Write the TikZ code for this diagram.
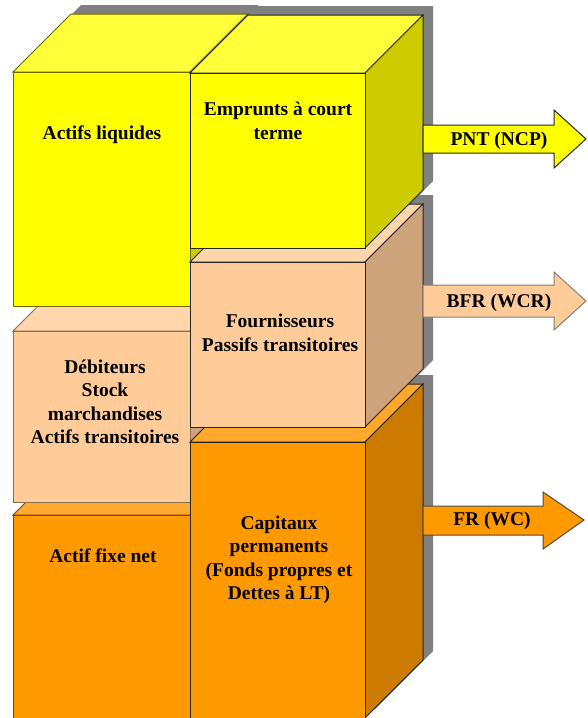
\documentclass[tikz,border=0pt]{standalone}
\usepackage{fontspec}
\setmainfont{Liberation Serif}

\definecolor{jaunefront}{HTML}{FFFF00}
\definecolor{jaunetop}{HTML}{FFFF3A}
\definecolor{jauneside}{HTML}{CCCC00}
\definecolor{jauneline}{HTML}{6B6B00}
\definecolor{pechefront}{HTML}{FFCC99}
\definecolor{pechetop}{HTML}{FFD6AB}
\definecolor{pecheside}{HTML}{CCA37A}
\definecolor{pecheline}{HTML}{8A6E52}
\definecolor{orangefront}{HTML}{FF9900}
\definecolor{orangetop}{HTML}{FFA82E}
\definecolor{orangeside}{HTML}{CC7A00}
\definecolor{orangeline}{HTML}{7A4A00}

% box seen from the upper right: #1,#2 = top left, #3,#4 = bottom right, #5 = colour, #6 = edges
\newcommand{\boite}[6]{%
  \filldraw[fill = #5top, draw = #6] (#1, #2) -- (#1 + 58, #2 - 58) -- (#3 + 58, #2 - 58) -- (#3, #2) -- cycle;
  \filldraw[fill = #5side, draw = #6] (#3, #2) -- (#3 + 58, #2 - 58) -- (#3 + 58, #4 - 58) -- (#3, #4) -- cycle;
  \filldraw[fill = #5front, draw = #6] (#1, #2) rectangle (#3, #4);
}
% grey shadow behind a box
\newcommand{\ombre}[4]{%
  \fill[gray] (#1 + 10, #2 - 9) -- (#1 + 68, #2 - 67) -- (#3 + 68, #2 - 67) -- (#3 + 68, #4 - 67) -- (#3 + 10, #4 - 9) -- (#1 + 10, #4 - 9) -- cycle;
}

\begin{document}
\begin{tikzpicture}[x = 1pt, y = -1pt, line width = 1pt,
  etiquette/.style = {font = \fontsize{19.5}{23.5}\selectfont\bfseries, align = center, inner sep = 0pt}]
\useasboundingbox (0, 0) rectangle (588, 718);
\clip (0, 0) rectangle (588, 718);

\foreach \xa/\ya/\xb/\yb in {13/72/190/306, 13/331/190/502, 13/515/190/718, 190/73/365/248, 190/262/365/427, 190/442/365/718}
  \ombre{\xa}{\ya}{\xb}{\yb};

% assets
\boite{13}{515}{190}{718}{orange}{orangeline}
\boite{13}{331}{190}{502}{peche}{pecheline}
\boite{13}{72}{190}{306}{jaune}{jauneline}

% liabilities
\boite{190}{442}{365}{718}{orange}{black!85}
\boite{190}{262}{365}{427}{peche}{black!85}
\boite{190}{73}{365}{248}{jaune}{black!85}

% arrows
\filldraw[fill = jaunefront, draw = black!85] (423, 125) -- (554, 125) -- (554, 110) -- (586, 139) -- (554, 168) -- (554, 153) -- (423, 153) -- cycle;
\filldraw[fill = pechefront, draw = gray] (423, 285) -- (554, 285) -- (554, 272) -- (586, 301) -- (554, 330) -- (554, 317) -- (423, 317) -- cycle;
\filldraw[fill = orangefront, draw = black!70] (423, 506) -- (543, 506) -- (543, 492) -- (584, 520) -- (543, 549) -- (543, 535) -- (423, 535) -- cycle;

\node[etiquette] (liquides) at (102, 134.5) {Actifs liquides};
\node[etiquette] (emprunts) at (278, 121) {Emprunts à court\\terme};
\node[etiquette] (debiteurs) at (105, 402) {Débiteurs\\Stock\\marchandises\\Actifs transitoires};
\node[etiquette] (fournisseurs) at (280, 333) {Fournisseurs\\Passifs transitoires};
\node[etiquette] (fixe) at (103, 555.5) {Actif fixe net};
\node[etiquette] (capitaux) at (279, 560) {Capitaux\\permanents\\(Fonds propres et\\Dettes à LT)};

\node[etiquette] (pnt) at (499, 140.5) {PNT (NCP)};
\node[etiquette] (bfr) at (499, 302.5) {BFR (WCR)};
\node[etiquette] (fr) at (492, 520.5) {FR (WC)};
\end{tikzpicture}
\end{document}
